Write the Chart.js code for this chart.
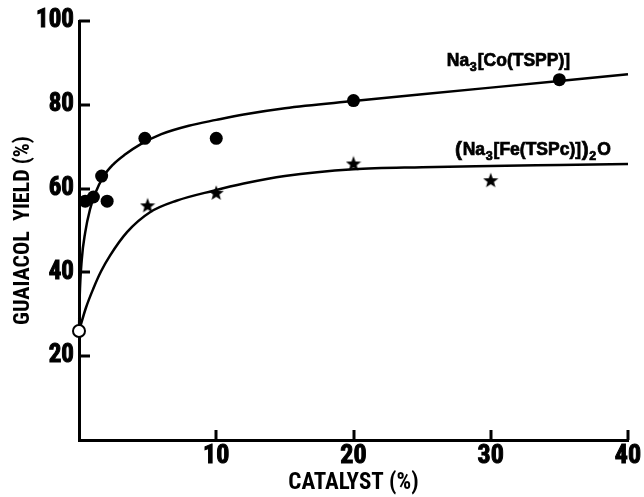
<!DOCTYPE html>
<html>
<head>
<meta charset="utf-8">
<script src="https://cdn.jsdelivr.net/npm/chart.js@4"></script>
<style>
  html, body { margin: 0; padding: 0; background: #fff; }
  #wrap { width: 644px; height: 497px; position: relative; }
</style>
</head>
<body>
<div id="wrap"><canvas id="c" width="644" height="497"></canvas></div>
<script>
// ---- data ----
const xTicks = [10, 20, 30, 40];
const yTicks = [20, 40, 60, 80, 100];

const coCatalyst = [0.45, 1.05, 1.65, 2.05, 4.8, 10, 20, 35];
const coYield    = [57, 58, 63, 57, 72, 72, 81, 86];

const feCatalyst = [5, 10, 20, 30];
const feYield    = [56, 59, 66, 62];

const blankCatalyst = [0];
const blankYield    = [26];

const coCurveX = [0, 0.05, 0.2, 0.45, 0.8, 1.2, 1.8, 2.5, 3.3, 4.5, 6, 8, 10, 12, 15, 20, 25, 30, 35, 40];
const coCurveY = [26, 34, 43, 49.5, 55, 59, 63, 65.8, 68, 70.6, 73, 75, 76.4, 77.7, 79.2, 80.9, 82.5, 84.1, 85.7, 87.3];

const feCurveX = [0, 0.5, 1.04, 1.6, 2.26, 3.5, 5.2, 7.1, 9.8, 12, 15, 20, 25, 30, 35, 40];
const feCurveY = [26, 31.5, 36.1, 40.2, 44, 49.6, 54.4, 57.1, 59.5, 61.2, 63, 64.6, 65.1, 65.4, 65.65, 65.9];

const xTitle = 'CATALYST (%)';
const yTitle = 'GUAIACOL  YIELD (%)';

// ---- helpers ----
const pts = (xs, ys) => xs.map((x, i) => ({ x: x, y: ys[i] }));
const NARROW = '"Liberation Sans Narrow", "Roboto Condensed", "DejaVu Sans Condensed", "Liberation Sans", sans-serif';
const WIDE = '"Liberation Sans", Arial, sans-serif';

function makeStar(size) {
  const cv = document.createElement('canvas');
  cv.width = size; cv.height = size;
  const g = cv.getContext('2d');
  const cx = size / 2, cy = size / 2 + 0.6, ro = size / 2, ri = ro * 0.42;
  g.beginPath();
  for (let i = 0; i < 10; i++) {
    const r = i % 2 === 0 ? ro : ri;
    const a = -Math.PI / 2 + i * Math.PI / 5;
    const px = cx + r * Math.cos(a), py = cy + r * Math.sin(a);
    if (i === 0) g.moveTo(px, py); else g.lineTo(px, py);
  }
  g.closePath();
  g.fillStyle = '#000';
  g.fill();
  return cv;
}
const starImg = makeStar(16);

// series labels with subscripts, anchored in data coordinates
// part: [text, kind]  kind: 0 normal, 1 subscript, 2 big paren
const seriesLabels = [
  { x: 26.8, y: 89.3, parts: [['Na', 0], ['3', 1], ['[Co(TSPP)]', 0]] },
  { x: 27.4, y: 68.1, parts: [['(', 2], ['Na', 0], ['3', 1], ['[Fe(TSPc)]', 0], [')', 2], ['2', 1], ['O', 0]] }
];

const innerTicksAndLabels = {
  id: 'innerTicksAndLabels',
  afterDatasetsDraw(chart) {
    const ctx = chart.ctx;
    const xs = chart.scales.x, ys = chart.scales.y;
    const area = chart.chartArea;
    ctx.save();
    ctx.strokeStyle = '#000';
    ctx.lineWidth = 3;
    ctx.lineCap = 'butt';
    xTicks.forEach(v => {
      const px = Math.round(xs.getPixelForValue(v));
      ctx.beginPath();
      ctx.moveTo(px, area.bottom);
      ctx.lineTo(px, area.bottom - 10);
      ctx.stroke();
    });
    yTicks.forEach(v => {
      const py = Math.round(ys.getPixelForValue(v));
      ctx.beginPath();
      ctx.moveTo(area.left, py);
      ctx.lineTo(area.left + 11, py);
      ctx.stroke();
    });
    // labels
    ctx.fillStyle = '#000';
    ctx.strokeStyle = '#000';
    ctx.lineWidth = 0.7;
    ctx.textBaseline = 'alphabetic';
    ctx.textAlign = 'left';
    seriesLabels.forEach(lab => {
      let px = xs.getPixelForValue(lab.x);
      const py = ys.getPixelForValue(lab.y);
      lab.parts.forEach(p => {
        const kind = p[1];
        let size = 17.5, dy = 0;
        if (kind === 1) { size = 12.5; dy = 5; }
        if (kind === 2) { size = 21; dy = 1.5; }
        ctx.font = 'bold ' + size + 'px ' + WIDE;
        ctx.fillText(p[0], px, py + dy);
        ctx.strokeText(p[0], px, py + dy);
        px += ctx.measureText(p[0]).width + (kind === 1 ? 1 : 0.6);
      });
    });
    ctx.restore();
  }
};

new Chart(document.getElementById('c'), {
  type: 'line',
  data: {
    datasets: [
      {
        label: 'Na3[Co(TSPP)] points',
        data: pts(coCatalyst, coYield),
        showLine: false,
        pointStyle: 'circle',
        pointRadius: 6.5,
        pointBackgroundColor: '#000',
        pointBorderColor: '#000',
        pointBorderWidth: 0,
        order: 0
      },
      {
        label: '(Na3[Fe(TSPc)])2O points',
        data: pts(feCatalyst, feYield),
        showLine: false,
        pointStyle: starImg,
        pointRadius: 8,
        order: 0
      },
      {
        label: 'no catalyst',
        data: pts(blankCatalyst, blankYield),
        showLine: false,
        pointStyle: 'circle',
        pointRadius: 6,
        pointBackgroundColor: '#fff',
        pointBorderColor: '#000',
        pointBorderWidth: 2,
        order: 0
      },
      {
        label: 'Co curve',
        data: pts(coCurveX, coCurveY),
        borderColor: '#000',
        borderWidth: 2.5,
        pointRadius: 0,
        cubicInterpolationMode: 'monotone',
        fill: false,
        order: 1
      },
      {
        label: 'Fe curve',
        data: pts(feCurveX, feCurveY),
        borderColor: '#000',
        borderWidth: 2.5,
        pointRadius: 0,
        cubicInterpolationMode: 'monotone',
        fill: false,
        order: 1
      }
    ]
  },
  options: {
    responsive: false,
    animation: false,
    devicePixelRatio: 1,
    clip: false,
    layout: { padding: { left: 0, right: 16, top: 21, bottom: 0 } },
    plugins: {
      legend: { display: false },
      tooltip: { enabled: false }
    },
    scales: {
      x: {
        type: 'linear',
        min: 0, max: 40,
        afterFit: s => { s.height = 57; },
        grid: { display: false, drawTicks: false },
        border: { display: true, color: '#000', width: 3 },
        afterBuildTicks: s => { s.ticks = [0].concat(xTicks).map(v => ({ value: v })); },
        ticks: {
          color: '#000',
          padding: 1,
          maxRotation: 0,
          textStrokeColor: '#000',
          textStrokeWidth: 1,
          font: { family: NARROW, size: 26, weight: 'bold' },
          callback: v => (xTicks.includes(v) ? String(v) : '')
        },
        title: {
          display: true,
          text: xTitle,
          color: '#000',
          padding: { top: -6, bottom: 0 },
          font: { family: NARROW, size: 23, weight: 'bold' }
        }
      },
      y: {
        type: 'linear',
        min: 0, max: 100,
        afterFit: s => { s.width = 79; },
        grid: { display: false, drawTicks: false },
        border: { display: true, color: '#000', width: 3 },
        afterBuildTicks: s => { s.ticks = [0].concat(yTicks).map(v => ({ value: v })); },
        ticks: {
          color: '#000',
          padding: 5,
          textStrokeColor: '#000',
          textStrokeWidth: 1,
          font: { family: NARROW, size: 25, weight: 'bold' },
          callback: v => (yTicks.includes(v) ? String(v) : '')
        },
        title: {
          display: true,
          text: yTitle,
          color: '#000',
          padding: { top: 10, bottom: 0 },
          font: { family: NARROW, size: 22, weight: 'bold' }
        }
      }
    }
  },
  plugins: [innerTicksAndLabels]
});
</script>
</body>
</html>
